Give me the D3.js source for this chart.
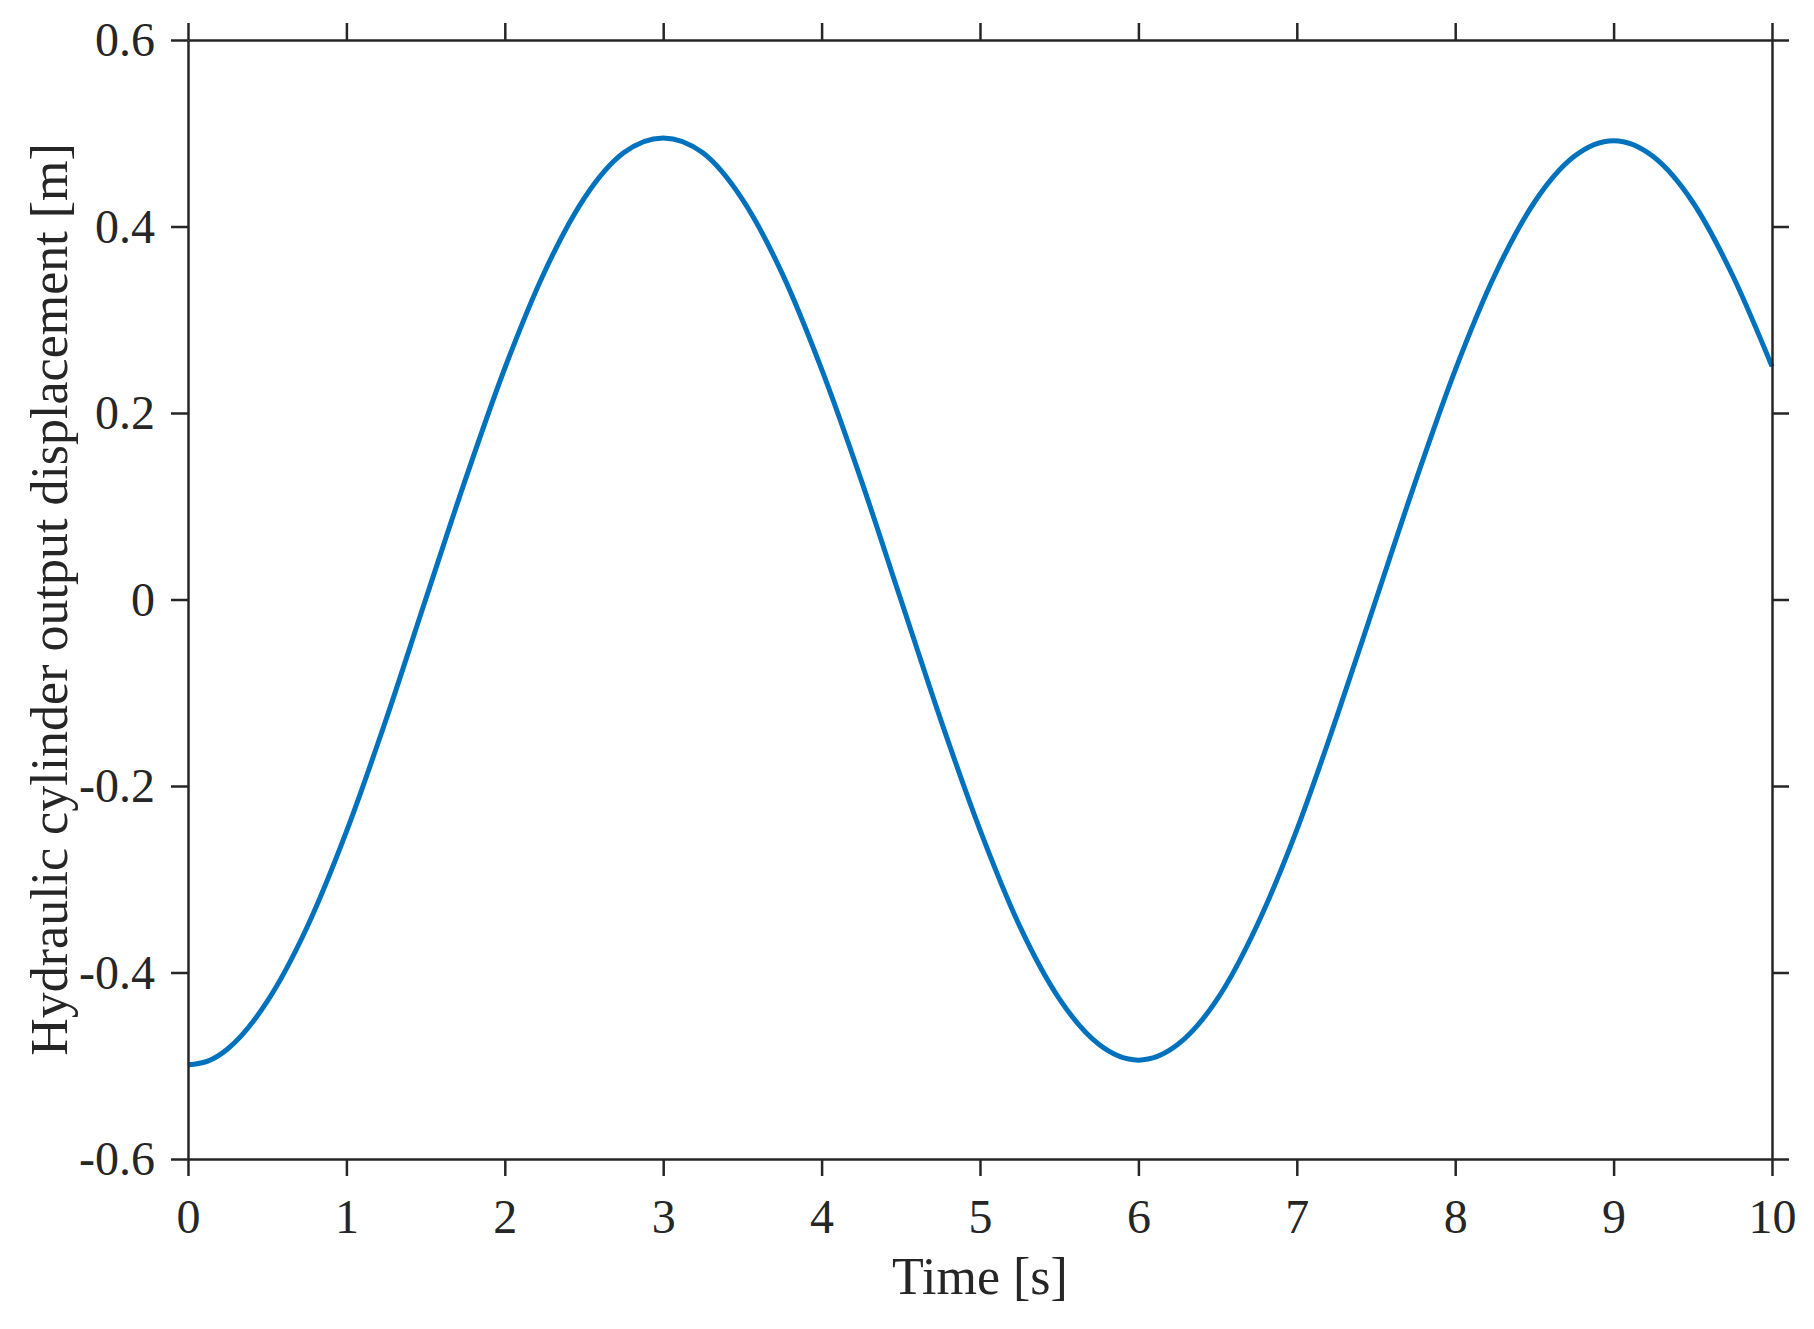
<!DOCTYPE html>
<html>
<head>
<meta charset="utf-8">
<script src="https://cdn.jsdelivr.net/npm/d3@7"></script>
<style>
  body { margin: 0; background: #fff; }
  text { font-family: "Liberation Serif", "Times New Roman", serif; fill: #262626; }
</style>
</head>
<body>
<div id="chart"></div>
<script>
// time samples [s] and displacement [m]
var times = [0, 0.125, 0.25, 0.5, 0.75, 1, 1.25, 1.5, 1.75, 2, 2.25, 2.5, 2.75, 3, 3.25, 3.5, 3.75,
  4, 4.25, 4.5, 4.75, 5, 5.25, 5.5, 5.75, 6, 6.25, 6.5, 6.75, 7, 7.25, 7.5, 7.75,
  8, 8.25, 8.5, 8.75, 9, 9.25, 9.5, 9.75, 10];
var displacement = [-0.499, -0.495, -0.482, -0.431, -0.352, -0.249, -0.129, 0.000, 0.128,
  0.248, 0.351, 0.430, 0.479, 0.495, 0.479, 0.429, 0.350,
  0.247, 0.128, 0.000, -0.128, -0.247, -0.350, -0.428, -0.477,
  -0.494, -0.477, -0.428, -0.349, -0.247, -0.127, 0.000, 0.127,
  0.246, 0.348, 0.426, 0.475, 0.492, 0.475, 0.426, 0.348, 0.250];
var xTicks = [0, 1, 2, 3, 4, 5, 6, 7, 8, 9, 10];
var yTicks = [-0.6, -0.4, -0.2, 0, 0.2, 0.4, 0.6];

var width = 1814,
  height = 1329;
var margin = { top: 40, right: 42, bottom: 170, left: 188 };
var plotW = width - margin.left - margin.right,
  plotH = height - margin.top - margin.bottom;
var tickLen = 17;

var svg = d3
  .select("#chart")
  .append("svg")
  .attr("width", width)
  .attr("height", height);

var g = svg
  .append("g")
  .attr("transform", "translate(" + margin.left + "," + margin.top + ")");

var x = d3.scaleLinear().domain([0, 10]).range([0, plotW]);
var y = d3.scaleLinear().domain([-0.6, 0.6]).range([plotH, 0]);

function fmt(d) {
  return d === 0 ? "0" : String(d);
}

// curve first so the frame sits over it at the edges
var line = d3
  .line()
  .x(function(d, i) { return x(times[i]); })
  .y(function(d) { return y(d); })
  .curve(d3.curveMonotoneX);

g.append("path")
  .datum(displacement)
  .attr("fill", "none")
  .attr("stroke", "#0072BD")
  .attr("stroke-width", 5)
  .attr("d", line);

function styleAxis(sel) {
  sel.selectAll("path.domain").attr("stroke", "#262626").attr("stroke-width", 2.5);
  sel.selectAll(".tick line").attr("stroke", "#262626").attr("stroke-width", 2.5);
}

var xBottom = g
  .append("g")
  .attr("transform", "translate(0," + plotH + ")")
  .call(d3.axisBottom(x).tickValues(xTicks).tickSize(tickLen).tickSizeOuter(0).tickFormat(fmt));
xBottom.selectAll(".tick text")
  .attr("font-size", "48px")
  .attr("y", 74)
  .attr("dy", 0)
  .attr("fill", "#262626");
styleAxis(xBottom);

var xTop = g
  .append("g")
  .call(d3.axisTop(x).tickValues(xTicks).tickSize(tickLen).tickSizeOuter(0).tickFormat(""));
styleAxis(xTop);

var yLeft = g
  .append("g")
  .call(d3.axisLeft(y).tickValues(yTicks).tickSize(tickLen).tickSizeOuter(0).tickFormat(fmt));
yLeft.selectAll(".tick text")
  .attr("font-size", "48px")
  .attr("x", -33)
  .attr("dy", "0.33em")
  .attr("fill", "#262626");
styleAxis(yLeft);

var yRight = g
  .append("g")
  .attr("transform", "translate(" + plotW + ",0)")
  .call(d3.axisRight(y).tickValues(yTicks).tickSize(tickLen).tickSizeOuter(0).tickFormat(""));
styleAxis(yRight);

svg.selectAll(".tick text").attr("font-family", "Liberation Serif");

// axis titles
svg.append("text")
  .attr("x", margin.left + plotW / 2)
  .attr("y", 1294)
  .attr("text-anchor", "middle")
  .attr("font-size", "52px")
  .text("Time [s]");

svg.append("text")
  .attr("transform", "translate(67," + (margin.top + plotH / 2) + ") rotate(-90)")
  .attr("text-anchor", "middle")
  .attr("font-size", "52px")
  .text("Hydraulic cylinder output displacement [m]");
</script>
</body>
</html>
